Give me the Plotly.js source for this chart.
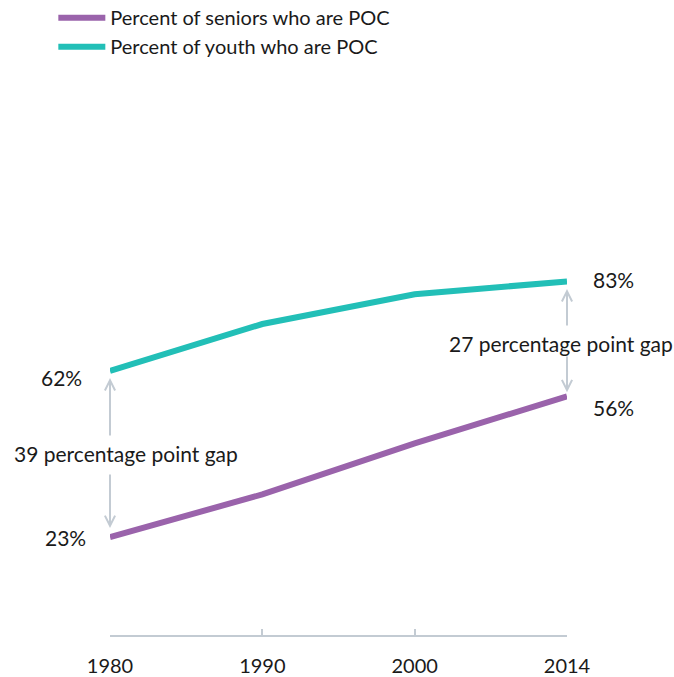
<!DOCTYPE html>
<html>
<head>
<meta charset="utf-8">
<script src="https://cdn.plot.ly/plotly-3.0.1.min.js"></script>
<style>html,body{margin:0;padding:0;background:#fff;}#chart{width:674px;height:677px;}</style>
</head>
<body>
<div id="chart"></div>
<script>
const years = ['1980', '1990', '2000', '2014'];
const seniorsPOC = [23, 33, 45, 56];
const youthPOC = [62, 73, 80, 83];
const seniorsName = 'Percent of seniors who are POC';
const youthName = 'Percent of youth who are POC';

const purple = '#9a63ab';
const teal = '#22bfb7';
const arrowGrey = '#c3cbd3';
const textColor = '#1a1a1a';
const FONT = 'Lato, "Open Sans", sans-serif';

const traces = [
  {x: years, y: seniorsPOC, name: seniorsName, type: 'scatter', mode: 'lines',
   line: {color: purple, width: 6}, cliponaxis: false, hoverinfo: 'skip'},
  {x: years, y: youthPOC, name: youthName, type: 'scatter', mode: 'lines',
   line: {color: teal, width: 6}, cliponaxis: false, hoverinfo: 'skip'}
];

const last = years.length - 1;
const gapStart = youthPOC[0] - seniorsPOC[0];
const gapEnd = youthPOC[last] - seniorsPOC[last];
const mid0 = (youthPOC[0] + seniorsPOC[0]) / 2;
const midL = (youthPOC[last] + seniorsPOC[last]) / 2;

function arrow(xi, tipY, tailY) {
  return {x: xi, y: tipY, ax: xi, ay: tailY, axref: 'x', ayref: 'y', xref: 'x', yref: 'y',
    text: '', showarrow: true, arrowhead: 5, arrowsize: 1, arrowwidth: 2, arrowcolor: arrowGrey,
    standoff: 0, startstandoff: 0};
}
function label(xi, yv, txt, anchor, dx, dy) {
  return {x: xi, y: yv, xref: 'x', yref: 'y', text: txt, xanchor: anchor, yanchor: 'middle',
    xshift: dx, yshift: dy, showarrow: false,
    font: {family: FONT, size: 21, color: textColor}};
}

const annotations = [
  label(0, youthPOC[0], youthPOC[0] + '%', 'right', -26, -7),
  label(0, seniorsPOC[0], seniorsPOC[0] + '%', 'right', -22, 0),
  label(last, youthPOC[last], youthPOC[last] + '%', 'left', 24, 2),
  label(last, seniorsPOC[last], seniorsPOC[last] + '%', 'left', 24, -11),
  label(0, mid0, gapStart + ' percentage point gap', 'center', 16, 0),
  label(last, midL - 1, gapEnd + ' percentage point gap', 'center', -6, 0),
  arrow(0, youthPOC[0] - 1.7, mid0 + 4),
  arrow(0, seniorsPOC[0] + 2.1, mid0 - 4.5),
  arrow(last, youthPOC[last] - 1.8, midL + 2.8),
  arrow(last, seniorsPOC[last] + 1, midL - 3.8)
];

const layout = {
  width: 674, height: 677,
  margin: {l: 110, r: 107, t: 209, b: 42, pad: 0, autoexpand: false},
  paper_bgcolor: '#ffffff', plot_bgcolor: '#ffffff',
  font: {family: FONT, size: 20, color: textColor},
  showlegend: true,
  legend: {x: -0.124, xanchor: 'left', y: 1.495, yanchor: 'top', bgcolor: 'rgba(0,0,0,0)',
    itemwidth: 47,
    font: {family: FONT, size: 20, color: textColor}, tracegroupgap: 0, traceorder: 'normal'},
  xaxis: {type: 'category', categoryorder: 'array', categoryarray: years, range: [0, 3],
    showgrid: false, zeroline: false, showline: true, linecolor: arrowGrey, linewidth: 2,
    ticks: 'inside', ticklen: 6, tickwidth: 2, tickcolor: arrowGrey,
    tickfont: {family: FONT, size: 20, color: textColor}, ticklabelstandoff: 12, fixedrange: true},
  yaxis: {range: [0, 100], visible: false, showgrid: false, zeroline: false, fixedrange: true},
  annotations: annotations
};

Plotly.newPlot('chart', traces, layout, {displayModeBar: false, staticPlot: true});
</script>
</body>
</html>
